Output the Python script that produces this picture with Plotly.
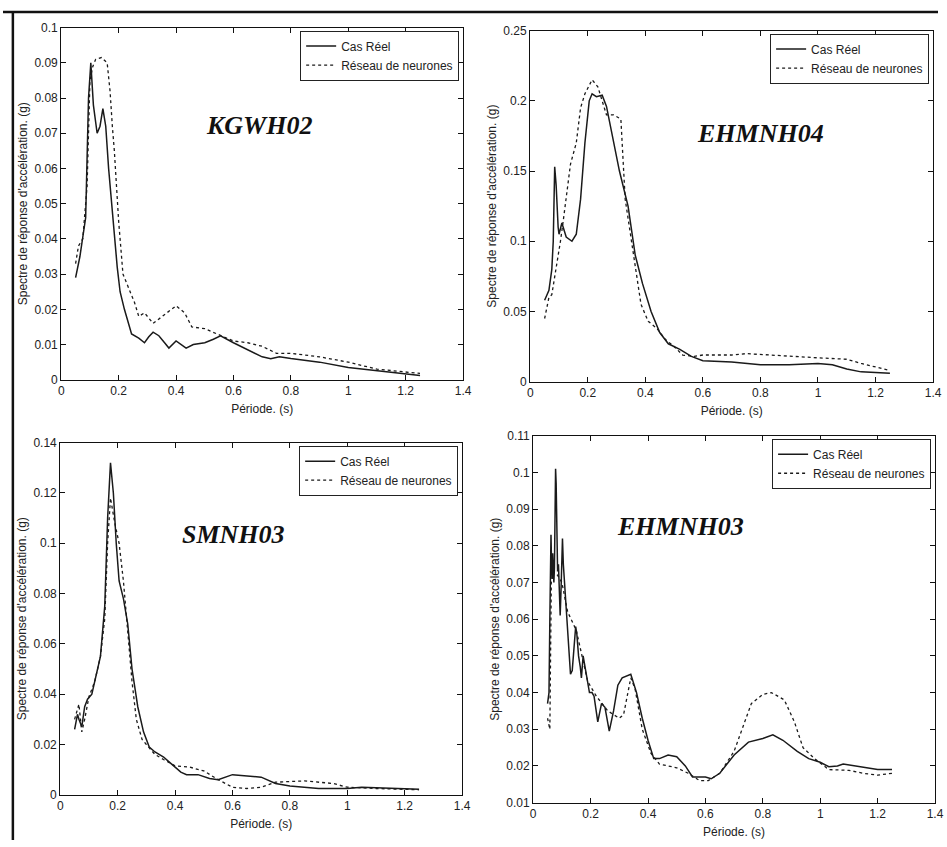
import plotly.graph_objects as go

# ---- Spectral acceleration data: period (s) vs response (g) ----
# KGWH02
kg_real_x = [0.05, 0.065, 0.085, 0.095, 0.103, 0.112, 0.125, 0.135, 0.145, 0.155, 0.165, 0.175, 0.185, 0.195,
             0.205, 0.22, 0.245, 0.27, 0.29, 0.305, 0.32, 0.34, 0.36, 0.375, 0.4, 0.435, 0.46, 0.5, 0.53,
             0.555, 0.6, 0.65, 0.7, 0.73, 0.76, 0.8, 0.9, 1.0, 1.1, 1.2, 1.25]
kg_real_y = [0.029, 0.035, 0.046, 0.080, 0.090, 0.078, 0.070, 0.072, 0.077, 0.072, 0.060, 0.050, 0.040, 0.032,
             0.025, 0.020, 0.013, 0.0118, 0.0105, 0.0122, 0.0135, 0.0125, 0.0105, 0.009, 0.011, 0.009, 0.010, 0.0105, 0.0115,
             0.0125, 0.0105, 0.0085, 0.0065, 0.006, 0.0065, 0.006, 0.005, 0.0035, 0.0025, 0.0015, 0.0012]
kg_nn_x = [0.05, 0.06, 0.075, 0.09, 0.1, 0.11, 0.12, 0.14, 0.16, 0.17, 0.178, 0.185, 0.2, 0.215, 0.235, 0.255,
           0.27, 0.29, 0.32, 0.36, 0.4, 0.43, 0.455, 0.5, 0.56, 0.6, 0.65, 0.7, 0.75, 0.8, 0.9, 1.0, 1.1, 1.25]
kg_nn_y = [0.033, 0.038, 0.040, 0.055, 0.085, 0.089, 0.091, 0.0915, 0.090, 0.082, 0.072, 0.065, 0.045, 0.030, 0.026, 0.022,
           0.018, 0.019, 0.016, 0.0185, 0.021, 0.019, 0.015, 0.0145, 0.0125, 0.011, 0.0105, 0.0095, 0.0075, 0.0075, 0.0065,
           0.005, 0.003, 0.0018]

# EHMNH04
eh4_real_x = [0.05, 0.065, 0.075, 0.08, 0.085, 0.09, 0.097, 0.1, 0.11, 0.125, 0.145, 0.16, 0.175, 0.19, 0.205,
              0.215, 0.23, 0.25, 0.265, 0.29, 0.31, 0.34, 0.365, 0.39, 0.42, 0.45, 0.48, 0.52, 0.56, 0.6, 0.7,
              0.8, 0.9, 1.0, 1.05, 1.1, 1.15, 1.25]
eh4_real_y = [0.058, 0.065, 0.080, 0.100, 0.153, 0.140, 0.110, 0.105, 0.113, 0.103, 0.100, 0.105, 0.130, 0.170, 0.200,
              0.205, 0.203, 0.204, 0.196, 0.170, 0.150, 0.125, 0.090, 0.070, 0.050, 0.035, 0.027, 0.023, 0.018, 0.015, 0.014,
              0.012, 0.012, 0.013, 0.012, 0.009, 0.007, 0.006]
eh4_nn_x = [0.05, 0.065, 0.075, 0.09, 0.105, 0.115, 0.14, 0.16, 0.175, 0.19, 0.215, 0.235, 0.25, 0.265, 0.29,
            0.315, 0.33, 0.36, 0.385, 0.41, 0.44, 0.47, 0.5, 0.53, 0.57, 0.6, 0.7, 0.75, 0.9, 1.0, 1.1, 1.15, 1.25]
eh4_nn_y = [0.045, 0.060, 0.062, 0.080, 0.100, 0.115, 0.155, 0.170, 0.195, 0.205, 0.215, 0.210, 0.200, 0.190, 0.190,
            0.187, 0.130, 0.090, 0.055, 0.043, 0.038, 0.030, 0.025, 0.019, 0.018, 0.019, 0.019, 0.020, 0.018, 0.017, 0.016,
            0.013, 0.008]

# SMNH03
sm_real_x = [0.05, 0.06, 0.065, 0.075, 0.085, 0.095, 0.11, 0.125, 0.14, 0.155, 0.165, 0.175, 0.185, 0.195, 0.205,
             0.22, 0.235, 0.25, 0.27, 0.29, 0.31, 0.33, 0.36, 0.38, 0.42, 0.44, 0.48, 0.52, 0.55, 0.6, 0.65, 0.7,
             0.75, 0.8, 0.9, 1.0, 1.05, 1.1, 1.25]
sm_real_y = [0.026, 0.032, 0.030, 0.027, 0.035, 0.038, 0.040, 0.047, 0.055, 0.075, 0.110, 0.132, 0.120, 0.100, 0.085,
             0.078, 0.068, 0.050, 0.035, 0.025, 0.019, 0.017, 0.015, 0.013, 0.009, 0.008, 0.008, 0.0065, 0.006, 0.008, 0.0075,
             0.007, 0.0045, 0.0035, 0.0025, 0.0025, 0.003, 0.0028, 0.0022]
sm_nn_x = [0.05, 0.065, 0.075, 0.085, 0.1, 0.12, 0.14, 0.155, 0.165, 0.175, 0.19, 0.205, 0.22, 0.235, 0.25, 0.265,
           0.285, 0.3, 0.33, 0.36, 0.4, 0.45, 0.5, 0.55, 0.6, 0.65, 0.7, 0.75, 0.85, 0.95, 1.0, 1.1, 1.2, 1.25]
sm_nn_y = [0.030, 0.036, 0.025, 0.030, 0.039, 0.045, 0.055, 0.070, 0.100, 0.118, 0.108, 0.100, 0.085, 0.065, 0.045, 0.030,
           0.022, 0.020, 0.016, 0.014, 0.0115, 0.011, 0.0095, 0.006, 0.003, 0.0025, 0.003, 0.005, 0.0055, 0.0045, 0.003,
           0.0025, 0.002, 0.002]

# EHMNH03
eh3_real_x = [0.05, 0.055, 0.058, 0.06, 0.062, 0.064, 0.066, 0.068, 0.07, 0.072, 0.074, 0.076, 0.078, 0.08, 0.082,
              0.085, 0.088, 0.091, 0.094, 0.097, 0.1, 0.102, 0.105, 0.108, 0.112, 0.118, 0.124, 0.13, 0.136, 0.142,
              0.148, 0.152, 0.158, 0.164, 0.168, 0.174, 0.18, 0.188, 0.196, 0.205, 0.212, 0.225, 0.238, 0.25, 0.265,
              0.28, 0.295, 0.31, 0.325, 0.34, 0.36, 0.38, 0.4, 0.42, 0.44, 0.47, 0.5, 0.53, 0.555, 0.58, 0.6, 0.62,
              0.65, 0.7, 0.75, 0.8, 0.835, 0.87, 0.92, 0.96, 1.0, 1.03, 1.06, 1.08, 1.12, 1.16, 1.2, 1.25]
eh3_real_y = [0.037, 0.040, 0.060, 0.079, 0.083, 0.075, 0.071, 0.078, 0.073, 0.070, 0.074, 0.093, 0.101, 0.097, 0.083,
              0.073, 0.075, 0.066, 0.061, 0.068, 0.078, 0.082, 0.075, 0.071, 0.066, 0.060, 0.052, 0.045, 0.046, 0.053,
              0.058, 0.056, 0.050, 0.047, 0.044, 0.050, 0.047, 0.043, 0.040, 0.040, 0.039, 0.032, 0.037, 0.036, 0.0295,
              0.035, 0.042, 0.044, 0.0445, 0.045, 0.040, 0.033, 0.027, 0.022, 0.022, 0.023, 0.0225, 0.020, 0.017, 0.017,
              0.017, 0.0165, 0.018, 0.023, 0.0265, 0.0275, 0.0285, 0.027, 0.024, 0.022, 0.021, 0.0198, 0.020, 0.0205,
              0.020, 0.0193, 0.019, 0.019]
eh3_nn_x = [0.05, 0.058, 0.063, 0.07, 0.085, 0.1, 0.12, 0.15, 0.17, 0.19, 0.22, 0.26, 0.3, 0.315, 0.33, 0.34, 0.355,
            0.38, 0.41, 0.44, 0.5, 0.54, 0.58, 0.61, 0.65, 0.7, 0.76, 0.8, 0.83, 0.875, 0.91, 0.94, 0.98, 1.03, 1.1,
            1.15, 1.2, 1.25]
eh3_nn_y = [0.033, 0.030, 0.070, 0.073, 0.072, 0.070, 0.062, 0.057, 0.050, 0.043, 0.039, 0.035, 0.033, 0.034, 0.040,
            0.044, 0.041, 0.030, 0.0235, 0.0205, 0.0195, 0.018, 0.016, 0.016, 0.018, 0.024, 0.037, 0.0395, 0.040, 0.038,
            0.032, 0.025, 0.022, 0.019, 0.0188, 0.018, 0.0175, 0.018]

station_names = ["KGWH02", "EHMNH04", "SMNH03", "EHMNH03"]
series_names = ["Cas Réel", "Réseau de neurones"]

x_ticks = [0, 0.2, 0.4, 0.6, 0.8, 1, 1.2, 1.4]
y_ticks_kg = [0, 0.01, 0.02, 0.03, 0.04, 0.05, 0.06, 0.07, 0.08, 0.09, 0.1]
y_ticks_eh4 = [0, 0.05, 0.1, 0.15, 0.2, 0.25]
y_ticks_sm = [0, 0.02, 0.04, 0.06, 0.08, 0.1, 0.12, 0.14]
y_ticks_eh3 = [0.01, 0.02, 0.03, 0.04, 0.05, 0.06, 0.07, 0.08, 0.09, 0.1, 0.11]

W, H = 947, 847

# panel boxes in pixels: left, right, top, bottom
panels = [
    dict(box=(59, 466, 21, 379), yr=(0, 0.1), yt=y_ticks_kg,
         real=(kg_real_x, kg_real_y), nn=(kg_nn_x, kg_nn_y), lab=(0.69, 0.0723)),
    dict(box=(534, 942, 24, 381), yr=(0, 0.25), yt=y_ticks_eh4,
         real=(eh4_real_x, eh4_real_y), nn=(eh4_nn_x, eh4_nn_y), lab=(0.80, 0.177)),
    dict(box=(58, 465, 443, 801), yr=(0, 0.14), yt=y_ticks_sm,
         real=(sm_real_x, sm_real_y), nn=(sm_nn_x, sm_nn_y), lab=(0.605, 0.1035)),
    dict(box=(537, 944, 436, 809), yr=(0.01, 0.11), yt=y_ticks_eh3,
         real=(eh3_real_x, eh3_real_y), nn=(eh3_nn_x, eh3_nn_y), lab=(0.513, 0.0854)),
]

FONT = "Liberation Sans, Arial, sans-serif"
LINE = "#1a1a1a"

fig = go.Figure()
layout = dict(
    width=W, height=H, margin=dict(l=0, r=0, t=0, b=0),
    paper_bgcolor="white", plot_bgcolor="white",
    font=dict(family=FONT, size=12, color="#222"),
    shapes=[], annotations=[],
)


def fmt(v):
    return f"{v:.2f}".rstrip("0").rstrip(".")


for i, p in enumerate(panels):
    n = "" if i == 0 else str(i + 1)
    xa, ya = "x" + n, "y" + n
    leg = "legend" + n
    l, r, t, b = p["box"]
    xdom = [l / W, r / W]
    ydom = [1 - b / H, 1 - t / H]
    fig.add_trace(go.Scatter(x=p["real"][0], y=p["real"][1], mode="lines", name=series_names[0],
                             line=dict(color=LINE, width=1.5), xaxis=xa, yaxis=ya, legend=leg))
    fig.add_trace(go.Scatter(x=p["nn"][0], y=p["nn"][1], mode="lines", name=series_names[1],
                             line=dict(color=LINE, width=1.3, dash="3px,3px"), xaxis=xa, yaxis=ya, legend=leg))
    axis_common = dict(showline=True, linecolor="#111", linewidth=1.2, mirror="ticks", ticks="inside",
                       ticklen=5, tickcolor="#111", showgrid=False, zeroline=False,
                       tickfont=dict(family=FONT, size=12, color="#222"))
    layout["xaxis" + n] = dict(axis_common, domain=xdom, range=[0, 1.4], anchor=ya,
                               tickvals=x_ticks, ticktext=[fmt(v) for v in x_ticks],
                               title=dict(text="Période. (s)", standoff=7,
                                          font=dict(family=FONT, size=12, color="#222")))
    layout["yaxis" + n] = dict(axis_common, domain=ydom, range=list(p["yr"]), anchor=xa,
                               tickvals=p["yt"], ticktext=[fmt(v) for v in p["yt"]],
                               title=dict(text="Spectre de réponse d'accélération. (g)", standoff=4,
                                          font=dict(family=FONT, size=12, color="#222")))
    # legend in the upper-right corner of each panel (figure-relative position)
    layout[leg] = dict(x=(r - 4) / W, y=1 - (t + 3) / H, xanchor="right", yanchor="top",
                       xref="paper", yref="paper",
                       bgcolor="white", bordercolor="#222", borderwidth=1,
                       font=dict(family=FONT, size=12, color="#222"),
                       itemwidth=30, tracegroupgap=0)
    layout["annotations"].append(dict(
        x=p["lab"][0], y=p["lab"][1], xref=xa, yref=ya, text="<b><i>%s</i></b>" % station_names[i],
        showarrow=False, font=dict(family="Liberation Serif, Times New Roman, serif", size=26, color="#111")))

# outer frame (top and left edges)
layout["shapes"].append(dict(type="line", xref="paper", yref="paper", x0=0, x1=1, y0=1 - 5 / H, y1=1 - 5 / H,
                             line=dict(color="#111", width=2.5)))
layout["shapes"].append(dict(type="line", xref="paper", yref="paper", x0=10 / W, x1=10 / W, y0=0, y1=1 - 5 / H,
                             line=dict(color="#111", width=2.5)))

fig.update_layout(**layout)
fig.write_html("out.html")
